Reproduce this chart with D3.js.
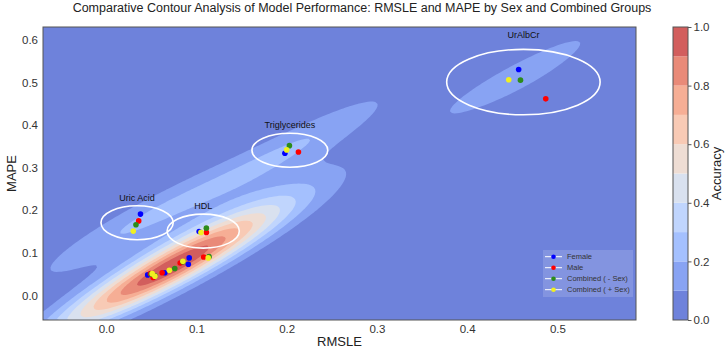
<!DOCTYPE html>
<html><head><meta charset="utf-8">
<script src="https://cdn.jsdelivr.net/npm/d3@7"></script>
<style>body{margin:0;background:#fff;} text{font-family:"Liberation Sans",Arial,Helvetica,sans-serif;}</style>
</head><body>
<svg id="chart" width="725" height="354"></svg>
<script>
// ---------------- data ----------------
const biomarkers = ["Uric Acid", "HDL", "Triglycerides", "UrAlbCr", "Marker 5", "Marker 6", "Marker 7", "Marker 8", "Marker 9"];
const labeledBiomarkers = ["Uric Acid", "HDL", "Triglycerides", "UrAlbCr"];
const ellipseRadiusX = [0.040, 0.040, 0.042, 0.085];
const ellipseRadiusY = [0.040, 0.040, 0.040, 0.077];

const seriesNames = ["Female", "Male", "Combined ( - Sex)", "Combined ( + Sex)"];
const seriesColors = ["#0000ff", "#ff0000", "#2c8c1a", "#f0f020"];

const femaleRMSLE = [0.038, 0.103, 0.198, 0.457, 0.046, 0.053, 0.065, 0.092, 0.091];
const femaleMAPE  = [0.191, 0.150, 0.334, 0.531, 0.048, 0.044, 0.053, 0.088, 0.073];
const maleRMSLE   = [0.036, 0.111, 0.213, 0.487, 0.049, 0.052, 0.062, 0.082, 0.108];
const maleMAPE    = [0.175, 0.148, 0.337, 0.462, 0.051, 0.042, 0.053, 0.076, 0.090];
const combNoSexRMSLE = [0.033, 0.111, 0.203, 0.459, 0.050, 0.054, 0.076, 0.085, 0.114];
const combNoSexMAPE  = [0.166, 0.158, 0.352, 0.506, 0.050, 0.046, 0.063, 0.079, 0.091];
const combSexRMSLE   = [0.030, 0.105, 0.200, 0.446, 0.051, 0.054, 0.070, 0.085, 0.113];
const combSexMAPE    = [0.151, 0.148, 0.342, 0.507, 0.051, 0.045, 0.059, 0.080, 0.088];

const xTicks = [0.0, 0.1, 0.2, 0.3, 0.4, 0.5];
const yTicks = [0.0, 0.1, 0.2, 0.3, 0.4, 0.5, 0.6];
const levels = [0.0, 0.1, 0.2, 0.3, 0.4, 0.5, 0.6, 0.7, 0.8, 0.9, 1.0];
const colorbarTicks = [0.0, 0.2, 0.4, 0.6, 0.8, 1.0];

const titleText = "Comparative Contour Analysis of Model Performance: RMSLE and MAPE by Sex and Combined Groups";

// ---------------- layout ----------------
const svg = d3.select("#chart");
const M = {left: 43, top: 27, right: 636, bottom: 320};
const W = M.right - M.left, H = M.bottom - M.top;

const seriesX = [femaleRMSLE, maleRMSLE, combNoSexRMSLE, combSexRMSLE];
const seriesY = [femaleMAPE, maleMAPE, combNoSexMAPE, combSexMAPE];
const allX = seriesX.flat(), allY = seriesY.flat();

const x = d3.scaleLinear().domain([d3.min(allX) - 0.1, d3.max(allX) + 0.1]).range([M.left, M.right]);
const y = d3.scaleLinear().domain([d3.min(allY) - 0.1, d3.max(allY) + 0.1]).range([M.bottom, M.top]);

// coolwarm colormap
const cw = [[59,76,192],[68,90,204],[77,104,215],[87,117,225],[98,130,234],[108,142,241],[119,154,247],[130,165,251],[141,176,254],[152,185,255],[163,194,255],[174,201,253],[184,208,249],[194,213,244],[204,217,238],[213,219,230],[221,221,221],[229,216,209],[236,211,197],[241,204,185],[245,196,173],[247,187,160],[247,177,148],[247,166,135],[244,154,123],[241,141,111],[236,127,99],[229,112,88],[222,96,77],[213,80,66],[203,62,56],[192,40,47],[180,4,38]];
function coolwarm(t) {
  const p = Math.max(0, Math.min(1, t)) * (cw.length - 1);
  const i = Math.min(cw.length - 2, Math.floor(p)), f = p - i;
  return cw[i].map((v, k) => v + (cw[i + 1][k] - v) * f);
}
const alpha = 0.8;
function bandColor(lo, hi) {
  const c = coolwarm((lo + hi) / 2);
  return d3.rgb(...c.map(v => alpha * v + (1 - alpha) * 255)).formatHex();
}
const bands = levels.slice(0, -1).map((lo, i) => ({lo, hi: levels[i + 1], color: bandColor(lo, levels[i + 1])}));

// ---------------- KDE (Scott's rule, full covariance, stretched along principal axis) ----------------
const n = allX.length;
const mx = d3.mean(allX), my = d3.mean(allY);
let sxx = 0, syy = 0, sxy = 0;
for (let i = 0; i < n; i++) { const dx = allX[i] - mx, dy = allY[i] - my; sxx += dx * dx; syy += dy * dy; sxy += dx * dy; }
sxx /= (n - 1); syy /= (n - 1); sxy /= (n - 1);
const fac = Math.pow(n, -1 / 6), f2 = fac * fac;
const A = sxx * f2, B = sxy * f2, D = syy * f2;
const tr = (A + D) / 2, disc = Math.sqrt(((A - D) / 2) ** 2 + B * B);
const l1 = tr + disc, l2 = tr - disc;
let v1 = [B, l1 - A]; const vn = Math.hypot(v1[0], v1[1]); v1 = [v1[0] / vn, v1[1] / vn];
const v2 = [-v1[1], v1[0]];
const kMaj = 1.2, kMin = 1.0;
const L1 = l1 * kMaj * kMaj, L2 = l2 * kMin * kMin;
const a = L1 * v1[0] * v1[0] + L2 * v2[0] * v2[0];
const b = L1 * v1[0] * v1[1] + L2 * v2[0] * v2[1];
const d = L1 * v1[1] * v1[1] + L2 * v2[1] * v2[1];
const det = a * d - b * b;
const ia = d / det, ib = -b / det, id = a / det;

const nx = 240, ny = 120;
const [x0, x1] = x.domain(), [y0, y1] = y.domain();
const grid = new Float64Array(nx * ny);
for (let j = 0; j < ny; j++) {
  const gy = y1 - (j + 0.5) * (y1 - y0) / ny;
  for (let i = 0; i < nx; i++) {
    const gx = x0 + (i + 0.5) * (x1 - x0) / nx;
    let s = 0;
    for (let k = 0; k < n; k++) {
      const dx = gx - allX[k], dy = gy - allY[k];
      s += Math.exp(-0.5 * (ia * dx * dx + 2 * ib * dx * dy + id * dy * dy));
    }
    grid[j * nx + i] = s;
  }
}
const gmax = d3.max(grid);
for (let i = 0; i < grid.length; i++) grid[i] /= gmax;

const contours = d3.contours().size([nx, ny]).thresholds(levels.slice(0, -1))(Array.from(grid));
const proj = d3.geoTransform({point: function(px, py) { this.stream.point(M.left + px * W / nx, M.top + py * H / ny); }});
const path = d3.geoPath(proj);

svg.append("defs").append("clipPath").attr("id", "clip").append("rect")
  .attr("x", M.left).attr("y", M.top).attr("width", W).attr("height", H);

const plot = svg.append("g").attr("clip-path", "url(#clip)");
plot.append("rect").attr("x", M.left).attr("y", M.top).attr("width", W).attr("height", H).attr("fill", bands[0].color);
plot.selectAll("path.band").data(contours).join("path").attr("class", "band")
  .attr("d", path).attr("fill", (c, i) => bands[i].color).attr("stroke", "none");

// ellipses + labels
const groups = labeledBiomarkers.map((name, gi) => {
  const bi = biomarkers.indexOf(name);
  const cx = d3.mean(seriesX.map(s => s[bi])), cy = d3.mean(seriesY.map(s => s[bi]));
  return {name, cx, cy, rx: ellipseRadiusX[gi], ry: ellipseRadiusY[gi]};
});
plot.selectAll("ellipse.grp").data(groups).join("ellipse").attr("class", "grp")
  .attr("cx", g => x(g.cx)).attr("cy", g => y(g.cy))
  .attr("rx", g => x(g.cx + g.rx) - x(g.cx)).attr("ry", g => y(g.cy) - y(g.cy + g.ry))
  .attr("fill", "none").attr("stroke", "#ffffff").attr("stroke-width", 1.6);
plot.selectAll("text.grp").data(groups).join("text").attr("class", "grp")
  .attr("x", g => x(g.cx)).attr("y", g => y(g.cy + g.ry * 1.42))
  .attr("text-anchor", "middle").attr("dominant-baseline", "middle")
  .attr("font-size", 9).attr("fill", "#111").text(g => g.name);

// points
seriesNames.forEach((s, si) => {
  plot.append("g").selectAll("circle").data(biomarkers.map((bm, bi) => [seriesX[si][bi], seriesY[si][bi]]))
    .join("circle").attr("cx", p => x(p[0])).attr("cy", p => y(p[1])).attr("r", 2.8)
    .attr("fill", seriesColors[si]);
});

// frame
svg.append("rect").attr("x", M.left).attr("y", M.top).attr("width", W).attr("height", H)
  .attr("fill", "none").attr("stroke", "#555").attr("stroke-width", 1);

// axes
const xAxis = svg.append("g").attr("transform", `translate(0,${M.bottom})`)
  .call(d3.axisBottom(x).tickValues(xTicks).tickFormat(d3.format(".1f")).tickSize(0).tickPadding(5));
const yAxis = svg.append("g").attr("transform", `translate(${M.left},0)`)
  .call(d3.axisLeft(y).tickValues(yTicks).tickFormat(d3.format(".1f")).tickSize(0).tickPadding(5));
[xAxis, yAxis].forEach(ax => {
  ax.select(".domain").remove();
  ax.selectAll("text").attr("font-size", 11.5).attr("fill", "#333").attr("font-family", '"Liberation Sans",Arial,sans-serif');
});
svg.append("text").attr("x", (M.left + M.right) / 2).attr("y", 343).attr("text-anchor", "middle")
  .attr("dominant-baseline", "middle").attr("font-size", 13).attr("fill", "#222").text("RMSLE");
svg.append("text").attr("transform", `translate(13,${(M.top + M.bottom) / 2}) rotate(-90)`).attr("text-anchor", "middle")
  .attr("dominant-baseline", "middle").attr("font-size", 13).attr("fill", "#222").text("MAPE");

// title
svg.append("text").attr("x", 362).attr("y", 9).attr("text-anchor", "middle").attr("dominant-baseline", "middle")
  .attr("font-size", 12.5).attr("fill", "#222").text(titleText);

// legend
const lg = svg.append("g");
lg.append("rect").attr("x", 543).attr("y", 250).attr("width", 90).attr("height", 47)
  .attr("fill", "#ffffff").attr("fill-opacity", 0.15).attr("stroke", "none");
seriesNames.forEach((s, i) => {
  const yy = 256.7 + i * 11;
  lg.append("line").attr("x1", 545).attr("x2", 562).attr("y1", yy).attr("y2", yy).attr("stroke", "#fff").attr("stroke-width", 1);
  lg.append("circle").attr("cx", 553.5).attr("cy", yy).attr("r", 2.3).attr("fill", seriesColors[i]);
  lg.append("text").attr("x", 567).attr("y", yy).attr("dominant-baseline", "middle").attr("font-size", 7.5)
    .attr("fill", "#333").text(s);
});

// colorbar
const cb = {x: 673, w: 15};
const cyS = d3.scaleLinear().domain([levels[0], levels[levels.length - 1]]).range([M.bottom, M.top]);
svg.append("g").selectAll("rect").data(bands).join("rect")
  .attr("x", cb.x).attr("width", cb.w).attr("y", bd => cyS(bd.hi)).attr("height", bd => cyS(bd.lo) - cyS(bd.hi))
  .attr("fill", bd => bd.color);
svg.append("rect").attr("x", cb.x).attr("y", M.top).attr("width", cb.w).attr("height", H)
  .attr("fill", "none").attr("stroke", "#555").attr("stroke-width", 1);
const cax = svg.append("g").attr("transform", `translate(${cb.x + cb.w},0)`)
  .call(d3.axisRight(cyS).tickValues(colorbarTicks).tickFormat(d3.format(".1f")).tickSize(3.5).tickPadding(2));
cax.select(".domain").remove();
cax.selectAll("line").attr("stroke", "#555");
cax.selectAll("text").attr("font-size", 11.5).attr("fill", "#333").attr("font-family", '"Liberation Sans",Arial,sans-serif');
svg.append("text").attr("transform", `translate(718,${(M.top + M.bottom) / 2}) rotate(-90)`).attr("text-anchor", "middle")
  .attr("dominant-baseline", "middle").attr("font-size", 13).attr("fill", "#222").text("Accuracy");
</script>
</body></html>
